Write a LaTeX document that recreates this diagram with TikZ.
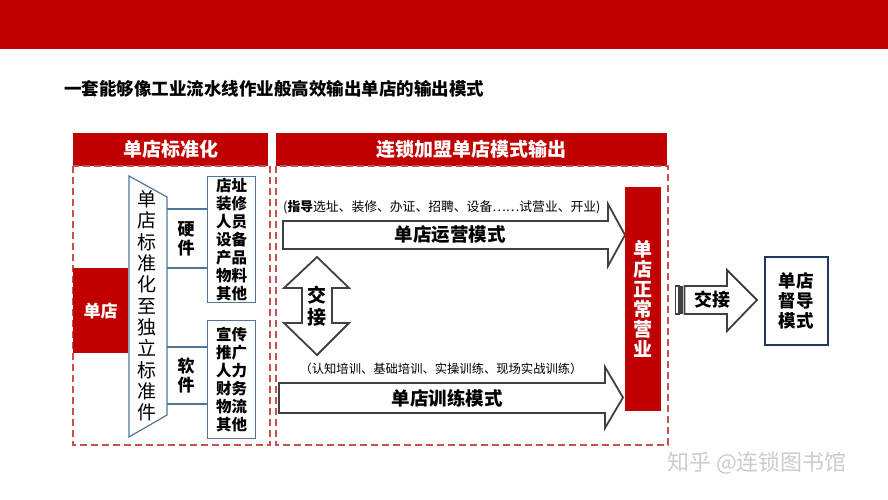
\documentclass[tikz,border=0pt]{standalone}
\usepackage{fontspec}
\setmainfont{Noto Sans CJK SC}
\definecolor{barred}{RGB}{192,0,0}
\definecolor{dashred}{RGB}{200,80,80}
\definecolor{slate}{RGB}{84,118,150}
\definecolor{arrgray}{RGB}{64,64,64}
\definecolor{navy}{RGB}{31,56,100}
\begin{document}
\begin{tikzpicture}[x=1pt,y=-1pt,
  hdr/.style={fill=barred,text=white,inner sep=0,font=\bfseries\fontsize{19}{22}\selectfont},
  redbox/.style={fill=barred,text=white,inner sep=0,align=center},
  dashbox/.style={draw=dashred,line width=1.2pt,dash pattern=on 7pt off 4pt},
  trap/.style={draw=slate,line width=1.2pt,fill=white},
  conn/.style={draw=slate,line width=1.2pt},
  listbox/.style={draw=slate,line width=1.2pt,inner sep=0,align=center,font=\bfseries\fontsize{15.5}{18}\selectfont},
  arr/.style={draw=arrgray,line width=1.8pt,fill=white,line join=miter},
  lbl/.style={inner sep=0,align=center},
  supbox/.style={draw=navy,line width=1.5pt,inner sep=0,align=center,font=\bfseries\fontsize{17.5}{20}\selectfont}
]
\useasboundingbox (0,0) rectangle (888,500);
\fill[white] (0,0) rectangle (888,500);
\fill[barred] (0,0) rectangle (888,49);
\node[anchor=west,inner sep=0,font=\bfseries\fontsize{17.5}{20}\selectfont] (title) at (64,89) {一套能够像工业流水线作业般高效输出单店的输出模式};

% headers
\node[hdr,minimum width=195,minimum height=33,anchor=north west] (h1) at (73,133) {单店标准化};
\node[hdr,minimum width=391,minimum height=33,anchor=north west] (h2) at (276,133) {连锁加盟单店模式输出};

% dashed frames
\draw[dashbox] (73,166) rectangle (270,445);
\draw[dashbox] (276,166) rectangle (668,445);

% left part
\node[redbox,minimum width=55,minimum height=85,anchor=north west,font=\bfseries\fontsize{17}{20}\selectfont] (shop) at (73,268) {单店};
\draw[trap] (129,176) -- (167,197) -- (167,415) -- (129,437) -- cycle;
\node[lbl,font=\fontsize{19}{21.3}\selectfont] (std) at (147,306) {单\\店\\标\\准\\化\\至\\独\\立\\标\\准\\件};

\node[listbox,minimum width=48,minimum height=126,anchor=north west] (hw) at (207,176) {店址\\装修\\人员\\设备\\产品\\物料\\其他};
\node[listbox,minimum width=48,minimum height=118,anchor=north west] (sw) at (207,320) {宣传\\推广\\人力\\财务\\物流\\其他};

\coordinate (t1) at (167,209);
\coordinate (t2) at (167,268);
\coordinate (t3) at (167,347);
\coordinate (t4) at (167,404);
\draw[conn] (t1) -- (t1 -| hw.west);
\draw[conn] (t2) -- (t2 -| hw.west);
\draw[conn] (t3) -- (t3 -| sw.west);
\draw[conn] (t4) -- (t4 -| sw.west);
\node[lbl,font=\bfseries\fontsize{17}{19}\selectfont] (hwl) at (186,239) {硬\\件};
\node[lbl,font=\bfseries\fontsize{17}{19}\selectfont] (swl) at (186,375.5) {软\\件};

% right part arrows
\draw[arr] (283,221) -- (608,221) -- (608,204) -- (625,235) -- (608,266) -- (608,249) -- (283,249) -- cycle;
\node[lbl,font=\bfseries\fontsize{18.5}{20}\selectfont] (op) at (450,235) {单店运营模式};
\node[anchor=west,inner sep=0,font=\fontsize{12.8}{14}\selectfont] (opn) at (283,207) {(\textbf{指导}选址、装修、办证、招聘、设备……试营业、开业)};

\draw[arr] (279,383) -- (605,383) -- (605,367) -- (623,397.5) -- (605,428) -- (605,413) -- (279,413) -- cycle;
\node[lbl,font=\bfseries\fontsize{18.5}{20}\selectfont] (tr) at (447,398) {单店训练模式};
\node[inner sep=0,font=\fontsize{12.3}{14}\selectfont] (trn) at (441,369) {（认知培训、基础培训、实操训练、现场实战训练）};

\draw[arr] (317,257) -- (349,288) -- (332,288) -- (332,323) -- (349,323) -- (317,355) -- (284,323) -- (302,323) -- (302,288) -- (284,288) -- cycle;
\node[lbl,font=\bfseries\fontsize{19}{22}\selectfont] (jj1) at (317,306) {交\\接};

\node[redbox,minimum width=36,minimum height=224,anchor=north west,font=\bfseries\fontsize{19}{20}\selectfont] (ok) at (625,187) {单\\店\\正\\常\\营\\业};

% hand-over arrow
\draw[draw=arrgray,line width=1.2pt,fill=white] (675.5,286) rectangle (679,314);
\fill[arrgray] (680.3,286) rectangle (683,314);
\draw[arr] (684.5,286) -- (727,286) -- (727,270) -- (757,300) -- (727,331) -- (727,314) -- (684.5,314) -- cycle;
\node[lbl,font=\bfseries\fontsize{18}{20}\selectfont] (jj2) at (712,300) {交接};

\node[supbox,minimum width=63,minimum height=88,anchor=north west] (sup) at (764,256) {单店\\督导\\模式};

% watermark
\node[inner sep=0,text=gray!40,font=\fontsize{22}{24}\selectfont] (wm) at (757,463) {知乎 @连锁图书馆};
\end{tikzpicture}
\end{document}
